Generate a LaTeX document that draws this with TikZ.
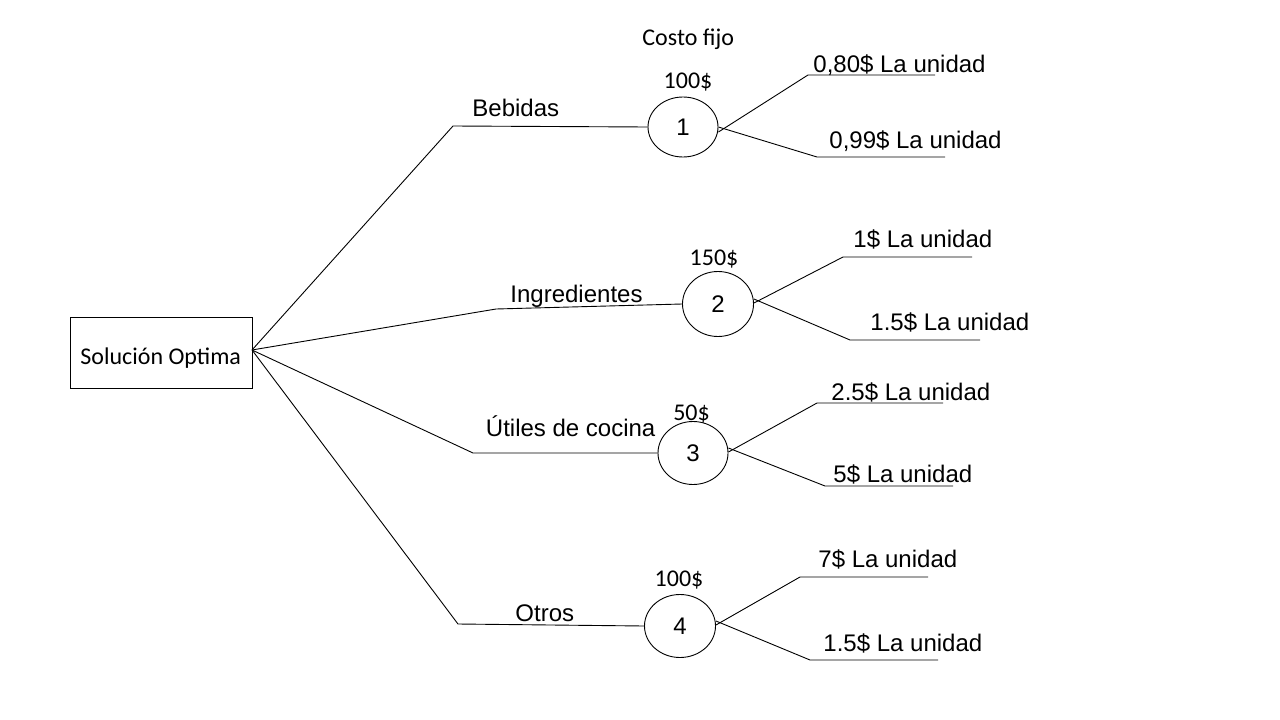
\documentclass[tikz,border=0pt]{standalone}
\usepackage{fontspec}
\setmainfont{Liberation Sans}
\newfontfamily\calfont{Carlito}
\usetikzlibrary{shapes.geometric}
\begin{document}
\begin{tikzpicture}[x=1pt,y=-1pt,line width=0.9pt,
  arl/.style={font=\fontsize{24}{28}\selectfont, inner sep=0pt, anchor=base west},
  cal/.style={font=\calfont\fontsize{24}{28}\selectfont, inner sep=0pt, anchor=base},
  chance/.style={draw, ellipse, inner sep=0pt, font=\fontsize{24}{28}\selectfont},
  rootbox/.style={draw, rectangle, minimum width=182pt, minimum height=71pt, inner sep=0pt},
  conn/.style={draw, line width=0.9pt}]
\useasboundingbox (0,0) rectangle (1280,720);
\fill[white] (0,0) rectangle (1280,720);

% root
\node[rootbox] (r) at (161,352.5) {};
\node[cal, anchor=base west] (rt) at (80,364) {Solución Optima};

% chance nodes
\node[chance, minimum width=70pt, minimum height=60pt] (c1) at (683,127) {1};
\node[chance, minimum width=71pt, minimum height=65pt] (c2) at (718,304) {2};
\node[chance, minimum width=70pt, minimum height=63pt] (c3) at (693,453) {3};
\node[chance, minimum width=71pt, minimum height=63pt] (c4) at (680,626) {4};

% bends of the main branches
\coordinate (b1) at (453,126);
\coordinate (b2) at (496,309);
\coordinate (b3) at (473,453);
\coordinate (b4) at (458,624);
\coordinate (r0) at (252,350);

\draw[conn] (r0) -- (b1) -- (c1.west);
\draw[conn] (r0) -- (b2) -- (c2.west);
\draw[conn] (r0) -- (b3) -- (c3.west);
\draw[conn] (r0) -- (b4) -- (c4.west);

% branch labels
\node[arl] (lb1) at (472,116.5) {Bebidas};
\node[arl] (lb2) at (510,302.5) {Ingredientes};
\node[arl] (lb3) at (485.5,436.5) {Útiles de cocina};
\node[arl] (lb4) at (515,621) {Otros};

% fixed costs
\node[cal, anchor=base west] (cf) at (642,45) {Costo fijo};
\node[cal] (f1) at (688,88) {100\$};
\node[cal] (f2) at (714,265) {150\$};
\node[cal] (f3) at (691.5,420) {50\$};
\node[cal] (f4) at (679,586) {100\$};

% outcome lines
\coordinate (u1a) at (808,75);  \coordinate (u1b) at (935,75);
\coordinate (l1a) at (817,157); \coordinate (l1b) at (945,157);
\coordinate (u2a) at (843,257); \coordinate (u2b) at (972,257);
\coordinate (l2a) at (850,340); \coordinate (l2b) at (980,340);
\coordinate (u3a) at (817,403); \coordinate (u3b) at (943,403);
\coordinate (l3a) at (825,486); \coordinate (l3b) at (953,486);
\coordinate (u4a) at (800,577); \coordinate (u4b) at (928,577);
\coordinate (l4a) at (810,660); \coordinate (l4b) at (938,660);

\draw[conn] ([yshift=-5pt]c1.east) -- (u1a) -- (u1b);
\draw[conn] (c1.east) -- (l1a) -- (l1b);
\draw[conn] ([yshift=1pt]c2.east) -- (u2a) -- (u2b);
\draw[conn] ([yshift=5pt]c2.east) -- (l2a) -- (l2b);
\draw[conn] ([yshift=1pt]c3.east) -- (u3a) -- (u3b);
\draw[conn] ([yshift=5pt]c3.east) -- (l3a) -- (l3b);
\draw[conn] ([yshift=1pt]c4.east) -- (u4a) -- (u4b);
\draw[conn] ([yshift=5pt]c4.east) -- (l4a) -- (l4b);

% outcome labels
\node[arl] (o1a) at (813,72) {0,80\$ La unidad};
\node[arl] (o1b) at (829,148) {0,99\$ La unidad};
\node[arl] (o2a) at (853,247) {1\$ La unidad};
\node[arl] (o2b) at (870,330.5) {1.5\$ La unidad};
\node[arl] (o3a) at (831,400) {2.5\$ La unidad};
\node[arl] (o3b) at (833,482) {5\$ La unidad};
\node[arl] (o4a) at (818,567) {7\$ La unidad};
\node[arl] (o4b) at (823,651.5) {1.5\$ La unidad};
\end{tikzpicture}
\end{document}
